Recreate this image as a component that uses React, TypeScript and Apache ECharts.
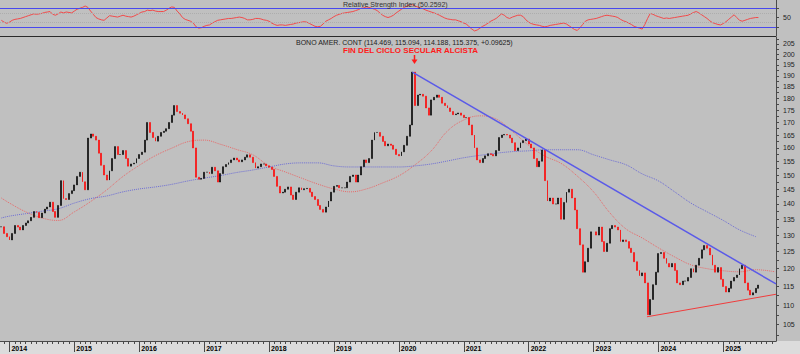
import React, { useEffect, useRef } from "react";
import * as echarts from "echarts";

// ---- DATA (semi-monthly bars, first bar mid-Nov 2013) ----
const firstBarYear = 2013.875;
const barsPerYear = 24;

const closes = [
  132.6, 130.5, 129.5, 128.5, 130.5, 133, 132.5, 131.6, 133, 133.8,
  134.5, 135.6, 137.5, 137.2, 135.5, 137, 138.3, 139, 140.6, 137.5,
  135.6, 139.5, 148, 141.8, 141.5, 143.5, 144.5, 146.5, 149.5, 151,
  147.6, 144.8, 163.8, 165.4, 164.5, 163, 158, 153.5, 150, 148.2,
  151.5, 156, 160.5, 157.5, 157.5, 159, 156, 153.2, 154, 154.3,
  156, 157.5, 158.4, 163, 170, 166, 164, 162.6, 164.5, 166,
  166.5, 167.5, 170, 173, 177, 174.5, 173.8, 173.1, 171.5, 169.5,
  166.5, 160, 149.2, 148.5, 148.8, 151, 151, 150.5, 152.8, 151.5,
  147.5, 150.5, 153, 153.8, 154.5, 155.5, 156.2, 155.5, 154.8, 155.5,
  156.5, 157.4, 156.5, 154.5, 152.5, 153, 154, 154, 153.3, 152.8,
  152, 149.5, 146, 143.7, 144, 145, 145.8, 143, 141.5, 144,
  145.5, 144.8, 145.2, 145.3, 144, 142.5, 141.5, 139.5, 138.2, 137.3,
  139, 141, 144, 146, 146.3, 145.5, 145.5, 145.5, 147.5, 149.5,
  150, 147.5, 150, 153, 155.5, 154.5, 156, 163, 166, 166,
  164.5, 162.5, 160.8, 161.5, 161, 159.5, 157.5, 157, 158.5, 161,
  164.5, 169, 191.7, 177, 181.5, 181.8, 181, 176, 173, 179.4,
  180.5, 181.5, 180.5, 178, 177, 176, 174.5, 173.2, 173.5, 173.9,
  173, 172, 172, 169, 165, 160, 155.5, 154.5, 156, 157,
  157.8, 157.5, 157, 159, 164, 165, 165.2, 165, 163.8, 162,
  159, 160, 162, 162.8, 163.4, 161.5, 160, 156, 153, 155,
  159.2, 148, 141, 142, 140, 140, 142, 135, 140.5, 144,
  145, 142, 138, 132, 127, 119, 122, 126, 131, 131,
  130, 132.5, 128, 125, 127.5, 132, 133, 132.5, 131.6, 128,
  128.5, 128, 126, 124.7, 122, 119.5, 118, 118.8, 116, 107.5,
  111.5, 115.5, 119, 124.4, 124.7, 123, 121.5, 120.5, 121.5, 119.5,
  116, 115.5, 116.5, 116.5, 117.5, 120, 119, 121, 123, 125.5,
  126.8, 126, 124, 121, 119, 120.3, 117, 115, 113.5, 114.5,
  116.5, 117.5, 118.2, 120, 121, 116, 114, 112.7, 113.3, 114.5,
  115.4,
];

const rsiValues = [
  44, 40, 37.5, 40, 44, 46, 47, 48, 50, 52,
  54, 56, 58, 57, 58, 59, 61, 62, 63, 57,
  55, 58, 62, 60, 62, 61, 60, 64, 68, 70,
  72, 75, 72, 64, 57, 50, 47, 45, 44, 49,
  54, 53, 52, 51, 53, 55, 53, 52, 51, 53,
  56, 59, 62, 63, 66, 65, 66, 64, 63, 63,
  63, 66, 70, 73, 72, 64, 58, 50, 46, 44,
  42, 38, 30, 27, 28, 31, 33, 34, 38, 41,
  44, 45, 46, 47, 48, 48, 49, 50, 51, 50,
  48, 45, 45, 46, 48, 48, 47, 45, 44, 42,
  38, 35, 33, 34, 34, 33, 34, 35, 36, 38,
  39, 40, 41, 40, 37, 34, 31, 30, 31, 36,
  42, 45, 48, 52, 55, 57, 59, 60, 61, 62,
  63, 65, 67, 70, 71, 73, 72, 70, 68, 65,
  60, 55, 52, 50, 52, 55, 60, 64, 68, 72,
  75, 77, 78, 75, 73, 71, 69, 66, 64, 62,
  60, 58, 55, 52, 49, 47, 46, 45, 45, 43,
  41, 38, 36, 30, 25, 21, 23, 27, 31, 34,
  38, 42, 45, 48, 53, 58, 55, 50, 48, 51,
  53, 55, 55, 52, 45, 40, 37, 35, 34, 33,
  31, 30, 31, 33, 34, 35, 36, 37, 38, 36,
  32, 28, 24, 22, 28, 35, 42, 45, 46, 47,
  48, 50, 52, 54, 55, 54, 53, 52, 50, 46,
  43, 41, 38, 35, 31, 29, 27, 25, 35, 48,
  59, 57, 54, 52, 50, 48, 49, 48, 49, 50,
  51, 52, 53, 54, 55, 58, 61, 63, 60, 56,
  52, 48, 43, 39, 37, 35, 34, 37, 41, 46,
  51, 56, 50, 44, 42, 44, 46, 48, 49, 50,
  50,
];

// quarterly samples of the two moving averages
const maYears = [2013.875, ...Array.from({ length: 47 }, (_, k) => 2014 + k * 0.25)];
const redMaValues = [
  142.0, 140.3, 137.4, 135.4, 134.6, 137.4, 140.8, 144.8, 149.5, 153.5,
  157.1, 159.9, 162.4, 163.0, 161.4, 159.4, 157.4, 153.3, 151.1, 148.9,
  146.8, 145.1, 144.1, 145.1, 147.2, 149.7, 153.7, 158.9, 166.6, 171.0,
  172.7, 171.4, 166.4, 161.0, 156.9, 154.2, 149.6, 144.1, 137.1, 131.9,
  129.1, 126.1, 123.4, 121.1, 120.0, 119.4, 119.1, 119.7, 119.1,
];
const redMaYears = [...maYears, 2025.8];
const blueMaValues = [
  135.4, 136.0, 136.8, 137.6, 138.4, 140.3, 141.8, 142.7, 144.1, 145.1,
  145.8, 146.7, 147.9, 148.9, 149.8, 150.9, 151.8, 152.9, 154.0, 154.4,
  154.4, 153.3, 152.9, 152.9, 152.9, 152.9, 153.3, 154.0, 155.1, 156.3,
  157.2, 158.0, 158.6, 158.9, 159.3, 159.3, 159.3, 157.4, 155.5, 153.7,
  150.4, 147.9, 144.1, 140.3, 137.4, 134.6, 131.6, 129.5,
];

const blueTrendYears = [2020.208, 2025.811];
const blueTrendValues = [191.7, 115.7];
const redTrendYears = [2023.823, 2025.811];
const redTrendValues = [107.0, 112.9];

const yearTicks = [2014, 2015, 2016, 2017, 2018, 2019, 2020, 2021, 2022, 2023, 2024, 2025];
const priceTicks = [105, 110, 115, 120, 125, 130, 135, 140, 145, 150, 155, 160, 165, 170, 175, 180, 185, 190, 195, 200, 205];
const rsiTickLabels = [50];
const rsiBands = [70, 30];
const rsiGuides = [60, 40];

const mainTitle = "BONO AMER. CONT (114.469, 115.094, 114.188, 115.375, +0.09625)";
const rsiTitle = "Relative Strength Index (50.2592)";
const annotation = "FIN DEL CICLO SECULAR ALCISTA";

// ---- LAYOUT ----
const W = 800;
const H = 354;
const PLOT_W = 776;
const N_CAT = 287;
const PX_PER_YEAR = 64.9;
const X_MIN = firstBarYear - (PLOT_W / N_CAT / 2) / PX_PER_YEAR;
const X_MAX = X_MIN + PLOT_W / PX_PER_YEAR;
const Y_MIN = Math.log(101.0);
const Y_MAX = Math.log(208.4);
const FONT = "Liberation Sans, Arial, sans-serif";

export default function App() {
  const ref = useRef<HTMLDivElement | null>(null);

  useEffect(() => {
    if (!ref.current) return;
    const chart = echarts.init(ref.current, undefined, { renderer: "svg" });
    const ln = Math.log;

    const cats = Array.from({ length: N_CAT }, (_, i) => "b" + i);
    const candleData = closes.map((c, i) => {
      const o = i > 0 ? closes[i - 1] : c;
      return [ln(o), ln(c), ln(Math.min(o, c)), ln(Math.max(o, c))];
    });

    const monthTicks: number[] = [];
    for (let m = Math.ceil(X_MIN * 12); m <= Math.floor(X_MAX * 12); m++) monthTicks.push(m / 12);
    const priceMinor: number[] = [];
    for (let p = 102.5; p <= 207.6; p += 2.5) priceMinor.push(ln(p));

    const axisGrey = "#4a4a4a";

    const option: any = {
      animation: false,
      backgroundColor: "#c0c0c0",
      textStyle: { fontFamily: FONT },
      grid: [
        { left: 0, top: 0, width: PLOT_W, height: 36 },
        { left: 0, top: 37, width: PLOT_W, height: 304 },
      ],
      xAxis: [
        { type: "category", gridIndex: 0, data: cats, show: false, boundaryGap: true },
        { type: "category", gridIndex: 1, data: cats, show: false, boundaryGap: true, position: "top" },
        {
          type: "value", gridIndex: 1, min: X_MIN, max: X_MAX, position: "bottom",
          axisLine: { show: true, lineStyle: { color: axisGrey, width: 1 } },
          axisTick: { show: true, customValues: monthTicks, length: 3, lineStyle: { color: axisGrey } },
          axisLabel: {
            show: true, customValues: yearTicks, formatter: (v: number) => String(Math.round(v)),
            align: "left", margin: 4, padding: [0, 0, 0, 2], fontSize: 7, fontWeight: "bold", color: "#000", fontFamily: FONT,
          },
          splitLine: { show: false },
        },
        {
          type: "value", gridIndex: 1, min: X_MIN, max: X_MAX, position: "bottom",
          axisLine: { show: false },
          axisTick: { show: true, customValues: yearTicks, length: 11, lineStyle: { color: axisGrey } },
          axisLabel: { show: false },
          splitLine: { show: false },
        },
      ],
      yAxis: [
        {
          type: "value", gridIndex: 0, min: 10, max: 88, position: "right",
          axisLine: { show: true, lineStyle: { color: axisGrey } },
          axisTick: { show: true, customValues: [30, 50, 70], length: 3, lineStyle: { color: axisGrey } },
          axisLabel: { show: true, customValues: rsiTickLabels, fontSize: 7, color: "#222", margin: 7, fontFamily: FONT },
          splitLine: { show: false },
        },
        {
          type: "value", gridIndex: 1, min: Y_MIN, max: Y_MAX, position: "right",
          axisLine: { show: true, lineStyle: { color: axisGrey } },
          axisTick: { show: true, customValues: priceMinor, length: 3, lineStyle: { color: axisGrey } },
          axisLabel: {
            show: true, customValues: priceTicks.map((p) => ln(p)),
            formatter: (v: number) => String(Math.round(Math.exp(v))),
            fontSize: 7, color: "#222", margin: 7, fontFamily: FONT,
          },
          splitLine: { show: false },
        },
      ],
      series: [
        {
          type: "line", xAxisIndex: 0, yAxisIndex: 0, data: rsiValues, symbol: "none",
          lineStyle: { color: "#f24a4a", width: 1 },
          markLine: {
            silent: true, symbol: ["none", "none"], label: { show: false },
            data: [
              ...rsiGuides.map((v) => ({ yAxis: v, lineStyle: { color: "#adadad", type: "dotted", width: 1 } })),
              ...rsiBands.map((v) => ({ yAxis: v, lineStyle: { color: "#4848ee", type: "solid", width: 1.2 } })),
            ],
          },
          z: 3,
        },
        {
          type: "line", xAxisIndex: 2, yAxisIndex: 1, symbol: "none", smooth: 0.4,
          data: redMaYears.map((t, k) => [t, ln(redMaValues[k])]),
          lineStyle: { color: "#e76a6a", type: "dotted", width: 1 },
          z: 1,
        },
        {
          type: "line", xAxisIndex: 2, yAxisIndex: 1, symbol: "none", smooth: 0.4,
          data: maYears.map((t, k) => [t, ln(blueMaValues[k])]),
          lineStyle: { color: "#6c6cd4", type: "dotted", width: 1 },
          z: 1,
        },
        {
          type: "candlestick", xAxisIndex: 1, yAxisIndex: 1, data: candleData, barWidth: 1.4,
          itemStyle: { color: "#000000", color0: "#ff0000", borderColor: "#000000", borderColor0: "#ff0000", borderWidth: 0.6 },
          z: 2,
        },
        {
          type: "line", xAxisIndex: 2, yAxisIndex: 1, symbol: "none",
          data: blueTrendYears.map((t, k) => [t, ln(blueTrendValues[k])]),
          lineStyle: { color: "#5a5ae8", width: 1.5 },
          z: 4,
        },
        {
          type: "line", xAxisIndex: 2, yAxisIndex: 1, symbol: "none",
          data: redTrendYears.map((t, k) => [t, ln(redTrendValues[k])]),
          lineStyle: { color: "#f03c3c", width: 1 },
          z: 4,
        },
      ],
      graphic: [
        { type: "rect", z: -10, silent: true, shape: { x: 0, y: 341, width: W, height: H - 341 }, style: { fill: "#dcdcdc" } },
        { type: "line", z: 5, silent: true, shape: { x1: 0, y1: 36.5, x2: PLOT_W, y2: 36.5 }, style: { stroke: "#2a2a2a", lineWidth: 1 } },
        {
          type: "text", z: 6, silent: true, x: 343, y: 1,
          style: { text: rsiTitle, fill: "#333", fontSize: 7, fontFamily: FONT, textVerticalAlign: "top" },
        },
        {
          type: "text", z: 6, silent: true, x: 296, y: 38.5,
          style: { text: mainTitle, fill: "#222", fontSize: 7, fontFamily: FONT, textVerticalAlign: "top" },
        },
        {
          type: "text", z: 6, silent: true, x: 343, y: 46,
          style: { text: annotation, fill: "#ff1a1a", fontSize: 8, fontWeight: "bold", fontFamily: FONT, textVerticalAlign: "top" },
        },
        { type: "line", z: 6, silent: true, shape: { x1: 414.5, y1: 55, x2: 414.5, y2: 60 }, style: { stroke: "#ff1a1a", lineWidth: 1.5 } },
        { type: "polygon", z: 6, silent: true, shape: { points: [[411.5, 59.5], [417.5, 59.5], [414.5, 64]] }, style: { fill: "#ff1a1a" } },
      ],
    };

    chart.setOption(option);
    return () => chart.dispose();
  }, []);

  return (
    <div
      ref={ref}
      style={{ position: "fixed", left: 0, top: 0, width: W, height: H }}
    />
  );
}
